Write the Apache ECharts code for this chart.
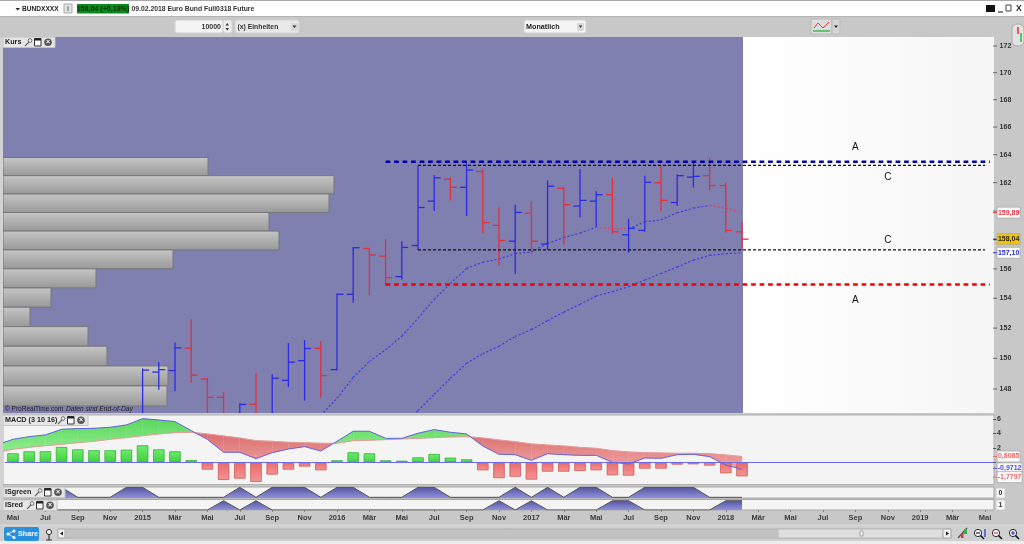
<!DOCTYPE html>
<html><head><meta charset="utf-8">
<style>html,body{margin:0;padding:0;background:#c8c8c8}#c{width:1024px;height:544px}</style>
<script src="https://cdn.jsdelivr.net/npm/echarts@6/dist/echarts.min.js"></script>
</head><body><div id="c"></div>
<script>
// ---------- data (index 0 = Mai 2014, one row per month) ----------
const months = ['Mai','Jun','Jul','Aug','Sep','Okt','Nov','Dez',
 '2015','Feb','Mär','Apr','Mai','Jun','Jul','Aug','Sep','Okt','Nov','Dez',
 '2016','Feb','Mär','Apr','Mai','Jun','Jul','Aug','Sep','Okt','Nov','Dez',
 '2017','Feb','Mär','Apr','Mai','Jun','Jul','Aug','Sep','Okt','Nov','Dez',
 '2018','Feb','Mär','Apr','Mai','Jun','Jul','Aug','Sep','Okt','Nov','Dez',
 '2019','Feb','Mär','Apr','Mai'];
const n = null;
const open = [n,n,n,n,n,n,n,n,145.8,149.1,149.2,150.67,148.65,147.46,146,147,146,148.56,149.85,150.65,149.26,154.27,157.4,156.87,155.47,157.6,160.7,162.25,161.67,162.8,159,157.9,159.85,157.7,161.6,160.35,160.7,161.15,158.35,158.65,162,160.6,162.4,162.5,161.8,158.55];
const high = [n,n,n,n,n,n,n,n,149.34,149.75,151.05,152.59,148.7,147.8,147.07,149.06,148.95,151,151.2,151.15,154.33,157.5,157.4,158.05,157.9,163.2,162.55,162.37,163.4,162.95,160.25,160.45,160.7,162.17,161.7,162.97,161.4,162.35,159.45,162.5,163.2,162.6,163.4,163.8,162,159.25];
const low = [n,n,n,n,n,n,n,n,145.5,147.95,147.85,148.4,146,145.5,145.8,145.8,146,148.13,147.25,147.45,149.2,153.7,154.2,154.85,155.27,157.3,160,160.75,159.65,158.45,156.2,155.65,157.05,157.3,157.65,159.55,158.9,158.4,157.1,158.55,160,160.35,161.65,161.45,158.5,157.3];
const close = [n,n,n,n,n,n,n,n,149.23,149.26,150.69,148.9,147.46,145.8,147,146,148.7,149.75,150.65,148.87,154.27,157.45,156.95,155.4,157.47,160.25,162.35,161.67,162.9,159.2,157.95,159.9,157.9,161.75,160.45,160.75,161.15,158.55,158.8,162.03,160.75,162.5,162.45,161.8,158.65,158.04];
const maUpper = [n,n,n,n,n,n,n,n,n,n,n,n,n,n,n,n,n,n,n,146.3,147.4,148.75,149.8,150.56,151.46,152.66,153.93,155,156.03,156.45,156.67,157.04,157.15,157.75,158.14,158.47,158.86,158.77,158.75,159.25,159.39,159.88,160.2,160.4,160.19,159.89];
const maLower = [n,n,n,n,n,n,n,n,n,n,n,n,n,n,n,n,n,n,n,n,n,n,n,n,145.6,146.6,147.65,148.7,149.67,150.3,150.8,151.44,151.9,152.5,153.07,153.6,154.15,154.45,154.78,155.24,155.68,156.12,156.6,156.92,157.04,157.1];
const macdLine = [3.19,3.56,3.8,4.58,4.68,4.72,4.86,5.19,6.06,5.88,5.65,4.4,3.19,1.39,1.39,.51,1.34,1.85,2.18,1.57,2.92,4.31,4.31,3.33,3.33,4.03,4.54,4.17,3.94,2.27,1.11,1.06,.28,1.2,1.06,.97,.97,0,-.23,.6,.56,1.06,1.11,.79,-.37,-.97];
const macdSignal = [1.81,2.08,2.31,2.5,2.73,2.92,3.19,3.43,3.7,3.94,4.12,4.17,3.94,3.66,3.38,3.01,2.92,2.78,2.73,2.64,2.64,3.01,3.06,3.15,3.24,3.33,3.43,3.52,3.56,3.38,3.1,2.87,2.55,2.41,2.27,2.08,1.94,1.62,1.44,1.34,1.3,1.25,1.25,1.2,1.02,.81];
const macdHist = [1.25,1.53,1.53,2.13,1.8,1.67,1.67,1.76,2.36,1.8,1.53,.32,-1.02,-2.45,-2.27,-2.73,-1.71,-1.02,-.6,-1.11,.28,1.39,1.25,.28,.23,.69,1.16,.65,.42,-1.11,-2.2,-2,-2.4,-1.3,-1.3,-1.2,-1.11,-1.8,-1.85,-.88,-.88,-.32,-.28,-.46,-1.53,-1.95];
const macdEdge = [2.73,1.53]; // line and signal at the panel's left edge
const isGreen = [1,1,1,1,0,0,0,1,1,0,0,0,0,0,1,0,1,1,1,0,1,1,0,0,0,1,1,0,0,0,0,1,0,1,0,1,1,0,0,1,1,1,1,0,0,0];
const isRed = [0,0,0,0,0,0,0,0,0,0,0,0,0,1,0,1,0,0,0,0,0,0,0,0,0,0,0,0,0,0,1,0,1,0,0,0,0,1,1,0,0,0,0,0,1,1];
const profileEdges = [163.8,162.5,161.2,159.9,158.6,157.3,156,154.7,153.4,152.1,150.8,149.5,148.2,146.9];
const profileVolume = [205,331,326,266,276,170,93,48,27,85,104,165,164];
const priceTicks = [172,170,168,166,164,162,160,158,156,154,152,150,148];
const levelStart = [23,25,25,23];
const levelEnd = [60,60,60,60];
const levelPrice = [163.5,163.24,157.3,154.94];
const levelKind = ['blue','black','black','red'];
const noteMonth = [52,54,54,52];
const notePrice = [164.55,162.4,158,153.9];
const noteText = ['A','C','C','A'];
const priceTags = [159.89,158.04,157.10];
const priceTagText = ['159,89','158,04','157,10'];
const macdTags = [0.8085,-0.9712,-1.7797];
const macdTagText = ['0,8085','-0,9712','-1,7797'];
const macdTicks = [6,4,2,0];

// ---------- styles ----------
const FF = '"Liberation Sans",Arial,sans-serif';
const BLUE = '#2b2be6', RED = '#e2303c';
const G = {type:'linear',x:0,y:0,x2:0,y2:1};
const grad = (a,b)=>Object.assign({},G,{colorStops:[{offset:0,color:a},{offset:1,color:b}]});
const gFill = (y1,y2,a,b)=>({type:'linear',global:true,x:0,y:y1,x2:0,y2:y2,colorStops:[{offset:0,color:a},{offset:1,color:b}]});
const GREEN_FILL = gFill(418,450,'#5ad65a','#8cec8c'), RED_FILL = gFill(436,470,'#dc7272','#f2a6a6');

function ohlcItem(p, api){
  const i = api.value(0);
  const c = api.coord([i, api.value(4)]), o = api.coord([i, api.value(1)]);
  const h = api.coord([i, api.value(2)]), l = api.coord([i, api.value(3)]);
  const col = api.value(4) >= api.value(1) ? BLUE : RED;
  const w = api.size([1,0])[0]*0.4, s = {stroke:col, lineWidth:1.3};
  return {type:'group', children:[
    {type:'line', shape:{x1:h[0],y1:h[1],x2:l[0],y2:l[1]}, style:s},
    {type:'line', shape:{x1:o[0]-w,y1:o[1],x2:o[0],y2:o[1]}, style:s},
    {type:'line', shape:{x1:c[0],y1:c[1],x2:c[0]+w,y2:c[1]}, style:s}
  ]};
}
function maItem(p, api){
  const i = api.value(0);
  const a = api.coord([i, api.value(1)]), b = api.coord([i+1, api.value(2)]);
  return {type:'line', shape:{x1:a[0],y1:a[1],x2:b[0],y2:b[1]},
    style:{stroke: api.value(2) >= api.value(1) ? '#3c3ce8' : '#e6405a', lineWidth:1.2, lineDash:[2,2]}};
}
const segments = arr => arr.slice(0,-1).map((v,i)=>[i,v,arr[i+1]]).filter(r=>r[1]!=null);

function macdFillItem(p, api){
  const i = api.value(0);
  const a1 = api.coord([i, api.value(1)]), b1 = api.coord([i+1, api.value(2)]);
  const a2 = api.coord([i, api.value(3)]), b2 = api.coord([i+1, api.value(4)]);
  const da = api.value(1)-api.value(3), db = api.value(2)-api.value(4);
  const poly = (pts,f)=>({type:'polygon', shape:{points:pts}, style:{fill:f,stroke:f,lineWidth:.4}});
  if (da*db >= 0) return poly([a1,b1,b2,a2], (da+db)>=0?GREEN_FILL:RED_FILL);
  const t = da/(da-db), x = [a1[0]+(b1[0]-a1[0])*t, a1[1]+(b1[1]-a1[1])*t];
  return {type:'group', children:[poly([a1,x,a2], da>0?GREEN_FILL:RED_FILL), poly([x,b1,b2], db>0?GREEN_FILL:RED_FILL)]};
}
function macdEdgeItem(p, api){
  const x0 = p.coordSys.x-1.9;
  const l0 = api.coord([0,api.value(0)]), s0 = api.coord([0,api.value(1)]);
  const l1 = api.coord([0,api.value(2)]), s1 = api.coord([0,api.value(3)]);
  return {type:'group',children:[
    {type:'polygon',shape:{points:[[x0,l0[1]],l1,s1,[x0,s0[1]]]},style:{fill:GREEN_FILL}},
    {type:'line',shape:{x1:x0,y1:l0[1],x2:l1[0],y2:l1[1]},style:{stroke:'#6464e6',lineWidth:1}},
    {type:'line',shape:{x1:x0,y1:s0[1],x2:s1[0],y2:s1[1]},style:{stroke:'#e79a9a',lineWidth:1}}
  ]};
}
function tagItem(colors, nudge){
  return function(p, api){
    const y = api.coord([0, api.value(1)])[1] + (nudge[p.dataIndex]||0);
    const x = p.coordSys.x + p.coordSys.width;
    const c = colors[p.dataIndex];
    return {type:'group', children:[
      {type:'line', shape:{x1:x,y1:y,x2:x+4,y2:y}, style:{stroke:c.t, lineWidth:1}},
      {type:'rect', shape:{x:x+4,y:y-5.5,width:c.w||23,height:11}, style:{fill:c.b, stroke:'#aaa', lineWidth:.8}},
      {type:'text', style:{x:x+4+(c.w||23)/2,y:y,text:c.s,fill:c.t,font:'bold 7px '+FF,align:'center',verticalAlign:'middle'}}
    ]};
  };
}

// ---------- chrome helpers ----------
const rect=(x,y,w,h,fill,stroke,z,r)=>({type:'rect',silent:true,z:z==null?-1:z,shape:{x,y,width:w,height:h,r:r||0},style:{fill,stroke:stroke||null,lineWidth:stroke?1:0}});
const txt=(x,y,s,o)=>({type:'text',silent:true,z:(o&&o.z)||100,style:Object.assign({x,y,text:s,fill:'#333',font:'bold 7px '+FF,verticalAlign:'middle'},o||{})});
const seg=(x1,y1,x2,y2,c,w,z)=>({type:'line',silent:true,z:z==null?100:z,shape:{x1,y1,x2,y2},style:{stroke:c,lineWidth:w||1}});
const circ=(x,y,r,fill,stroke,z)=>({type:'circle',silent:true,z:z==null?100:z,shape:{cx:x,cy:y,r},style:{fill,stroke:stroke||null,lineWidth:stroke?1:0}});
function tab(x,y,w,label){
  const ix = x+w-31;
  return [rect(x,y,w,10.5,'#e6e6e6','#c4c4c4',90),
    txt(x+2,y+5.5,label,{font:'bold 7.2px '+FF,fill:'#222'}),
    seg(ix+1,y+9,ix+5.5,y+4.5,'#666',1.1),circ(ix+6,y+3.5,1.8,'#fff','#666'),
    rect(ix+10.5,y+1.5,6.5,7.5,'#fff','#333',100),seg(ix+10.5,y+2.5,ix+17,y+2.5,'#222',2),
    circ(ix+24,y+5.2,3.8,'#555'),txt(ix+24,y+5.4,'×',{fill:'#fff',font:'bold 7px '+FF,align:'center'})];
}
function lens(x,y,sign,col){
  const a=[circ(x,y-1,3.6,'#fff','#223'),seg(x+2.5,y+1.5,x+6,y+5,'#111',1.6)];
  a.push(seg(x-2,y-1,x+2,y-1,col,1.2));
  if(sign==='+')a.push(seg(x,y-3,x,y+1,col,1.2));
  return a;
}
const chrome = [].concat(
  // panels
  rect(0,0,1024,544,'#c8c8c8',null,-3),
  rect(0,1,1024,15.5,'#ffffff',null,-2),
  rect(0,0,1024,1,'#aaaaaa',null,-2),
  rect(0,16,1024,1,'#b4b4b4',null,-2),
  rect(3,37,740,376,'#7f7fb0',null,-1),
  {type:'rect',silent:true,z:-1,shape:{x:743,y:37,width:251,height:376},style:{fill:{type:'linear',x:0,y:0,x2:1,y2:0,colorStops:[{offset:0,color:'#ffffff'},{offset:1,color:'#f6f6f6'}]}}},
  rect(3,415,991,69.5,'#f4f4f4','#b0b0b0'),
  rect(3,487,991,11,'#f4f4f4','#a8a8a8'),
  rect(3,499.5,991,10.5,'#f4f4f4','#a8a8a8'),
  rect(0,37,3,473,'#d2d2d2',null,95),
  // header row
  {type:'polygon',silent:true,z:100,shape:{points:[[15.5,8],[20,8],[17.7,10.5]]},style:{fill:'#222'}},
  txt(22,8.7,'BUNDXXXX',{font:'bold 6.6px '+FF,fill:'#222'}),
  rect(64,4,8,9,'#e2e2e2','#aaa',90),txt(68,8.7,'i',{align:'center',font:'bold 7px '+FF,fill:'#666'}),
  rect(77,4,52,9.5,'#0d8a1c',null,90),txt(103,8.9,'158,04 (+0,19%)',{align:'center',font:'bold 7.1px '+FF,fill:'#0b2b0b'}),
  txt(131.5,8.9,'09.02.2018 Euro Bund Full0318 Future',{font:'bold 6.8px '+FF,fill:'#333'}),
  rect(986,5,9,7,'#111',null,90),seg(998,12,1003,12,'#333',1.2),rect(1006,5,5,6,'#fff','#444',90),txt(1016,8.7,'X',{font:'bold 8.5px '+FF,fill:'#222'}),
  // toolbar
  rect(175,20,48,13,'#f4f4f4','#d0d0d0',90,2),txt(221,26.8,'10000',{align:'right'}),
  rect(223,20,9,13,'#eee','#d0d0d0',90,2),
  {type:'polygon',silent:true,z:100,shape:{points:[[225.5,25.5],[229,25.5],[227.2,23]]},style:{fill:'#333'}},
  {type:'polygon',silent:true,z:100,shape:{points:[[225.5,28],[229,28],[227.2,30.5]]},style:{fill:'#333'}},
  rect(235,20,64,13,'#e8e8e8','#d0d0d0',90,2),txt(237.5,26.8,'(x) Einheiten',{font:'bold 6.8px '+FF}),
  rect(291,23,7,8,'#d8d8d8',null,92,1),
  {type:'polygon',silent:true,z:100,shape:{points:[[292.5,25.5],[296.5,25.5],[294.5,28]]},style:{fill:'#333'}},
  rect(524,20,62,13,'#f4f4f4','#d0d0d0',90,2),txt(526,26.8,'Monatlich',{font:'bold 7.2px '+FF,fill:'#222'}),
  rect(577,23,7,8,'#d8d8d8',null,92,1),
  {type:'polygon',silent:true,z:100,shape:{points:[[578.8,25.5],[582.2,25.5],[580.5,28]]},style:{fill:'#333'}},
  rect(811,19,21,15,'#dcdcdc','#bbb',90,2),rect(832,19,8,15,'#d4d4d4','#bbb',90,1),
  seg(813,31,830,31,'#35b54a',1.4),seg(814,28,818,23,'#e03b3b',1),seg(818,23,823,28,'#36a84f',1),seg(823,28,829,22,'#e03b3b',1),
  {type:'polygon',silent:true,z:100,shape:{points:[[834,25.5],[838,25.5],[836,28]]},style:{fill:'#222'}},
  rect(1012,24,12,22,'#e2e2e2','#aaa',90,5),seg(1018,27,1018,34,'#dd3030',1.5),seg(1021,33,1021,42,'#2eb24a',1.5),
  // tabs and notes
  tab(3,37,52,'Kurs'),
  tab(3,415,85,'MACD (3 10 16)'),
  tab(3,487,62,'ISgreen'),
  tab(3,500,54,'ISred'),
  {type:'text',silent:true,z:100,style:{x:5,y:409,text:'© ProRealTime.com',fill:'#222',font:'6.5px '+FF,verticalAlign:'middle'}},
  {type:'text',silent:true,z:100,style:{x:66,y:409,text:'Daten sind End-of-Day',fill:'#222',font:'italic 6.6px '+FF,verticalAlign:'middle'}},
  // isolated axis labels
  rect(996,488,9,10,'#f8f8f8','#ccc',90),txt(1000.5,493.3,'0',{align:'center'}),
  rect(996,500,9,10,'#f8f8f8','#ccc',90),txt(1000.5,505.3,'1',{align:'center'}),
  // bottom bar
  seg(0,525.5,1024,525.5,'#dadada',1.5,-1),
  rect(0,527,1024,14,'#d0d0d0',null,-1),
  rect(0,541,1024,3,'#ececec',null,-1),
  rect(4,527,35,14,'#2a8fdd',null,90,2),txt(18,534.3,'Share',{font:'bold 7.2px '+FF,fill:'#fff'}),
  circ(8,534,1.5,'#fff'),circ(14,531,1.5,'#fff'),circ(14,537.5,1.5,'#fff'),seg(8,534,14,531,'#fff',.8),seg(8,534,14,537.5,'#fff',.8),
  circ(49,532,2.6,'#eee','#333'),seg(49,535,49,540,'#333',1.2),seg(46,540,52,540,'#333',1),
  rect(58,529,893,9,'#c2c2c2','#b0b0b0',-1),
  rect(58,529,7,9,'#f0f0f0','#aaa',90,1),{type:'polygon',silent:true,z:100,shape:{points:[[63,531.5],[63,535.5],[60,533.5]]},style:{fill:'#222'}},
  rect(778,529,165,9,'#dedede','#bbb',90,1),rect(860,531,3,5,'#eee','#aaa',92),
  rect(943,529,8,9,'#f0f0f0','#aaa',90,1),{type:'polygon',silent:true,z:100,shape:{points:[[946,531.5],[946,535.5],[949,533.5]]},style:{fill:'#222'}},
  seg(958,538,967,528,'#555',1.4),rect(964,529,3,5,'#2eb24a',null,100),rect(961,533,2.5,5,'#d33',null,100),
  lens(978,534,'',  '#223'),seg(985,529,985,537,'#2a45d8',1.4),
  lens(996,534,'-','#d33'),
  lens(1013,534,'+','#2a45d8')
);

// ---------- axes ----------
const LEFT = 4.9, WIDTH = 988.2;
const grids = [
  {left:LEFT,width:WIDTH,top:37,height:376},
  {left:LEFT,width:WIDTH,top:415,height:69.5},
  {left:LEFT,width:WIDTH,top:487,height:11},
  {left:LEFT,width:WIDTH,top:499.5,height:10.5}
];
const evenMonth = i => i % 2 === 0;
const hiddenX = g => ({type:'category',gridIndex:g,data:months,show:false});
const xAxes = [hiddenX(0),hiddenX(1),hiddenX(2),
  {type:'category',gridIndex:3,data:months,
   axisLine:{show:false},
   axisTick:{show:true,alignWithLabel:true,interval:evenMonth,length:2,lineStyle:{color:'#888'}},
   axisLabel:{show:true,interval:evenMonth,margin:4,hideOverlap:false,color:'#3a3a3a',fontFamily:'"Liberation Sans",Arial,sans-serif',fontWeight:'bold',fontSize:7.5}},
  {type:'value',gridIndex:0,show:false,min:1.9,max:990.1}
];
const yAxes = [
  {type:'log',gridIndex:0,min:146.45,max:172.68,show:false},
  {type:'value',gridIndex:1,min:-3.08,max:6.57,position:'right',splitLine:{show:false},axisLine:{show:false},
   axisTick:{show:true,length:3,customValues:macdTicks,lineStyle:{color:'#555'}},
   axisLabel:{show:true,customValues:macdTicks,margin:4,color:'#333',fontFamily:'"Liberation Sans",Arial,sans-serif',fontWeight:'bold',fontSize:7}},
  {type:'value',gridIndex:2,min:-0.07,max:1.03,show:false},
  {type:'value',gridIndex:3,min:0,max:1.13,show:false}
];
const onPanel = (g,extra)=>Object.assign({xAxisIndex:g,yAxisIndex:g},extra);

const series = [
  // volume profile
  onPanel(0,{type:'custom',xAxisIndex:4,z:1,
    data:profileVolume.map((v,i)=>[v,profileEdges[i],profileEdges[i+1]]),
    renderItem:(p,api)=>{
      const a=api.coord([0,api.value(1)]), b=api.coord([api.value(0),api.value(2)]);
      return {type:'rect',shape:{x:a[0],y:a[1],width:b[0]-a[0],height:b[1]-a[1]},
        style:{fill:grad('#c6c6c6','#989898'),stroke:'#777',lineWidth:1}};
    }}),
  // moving averages
  onPanel(0,{type:'custom',z:2,clip:true,data:segments(maUpper),renderItem:maItem}),
  onPanel(0,{type:'custom',z:2,clip:true,data:segments(maLower),renderItem:maItem}),
  // OHLC bars
  onPanel(0,{type:'custom',z:3,clip:true,
    data:open.map((o,i)=>[i,o,high[i],low[i],close[i]]).filter(r=>r[1]!=null),
    renderItem:ohlcItem}),
  // horizontal levels
  onPanel(0,{type:'custom',z:4,
    data:levelPrice.map((v,i)=>[levelStart[i],levelEnd[i],v]),
    renderItem:(p,api)=>{
      const k=levelKind[p.dataIndex], a=api.coord([api.value(0),api.value(2)]), b=api.coord([api.value(1),api.value(2)]);
      const st = k==='black'?{stroke:'#111',lineWidth:1.2,lineDash:[3,2]}
        :{stroke:k==='blue'?'#0000a4':'#f00008',lineWidth:2.5,lineDash:[4.7,3.8]};
      const extra = k==='black'?0:api.size([1,0])[0]*0.3;
      return {type:'line',shape:{x1:a[0],y1:a[1],x2:b[0]+extra,y2:b[1]},style:st};
    }}),
  // annotation letters
  onPanel(0,{type:'custom',z:5,
    data:notePrice.map((v,i)=>[noteMonth[i],v]),
    renderItem:(p,api)=>{
      const a=api.coord([api.value(0),api.value(1)]);
      return {type:'text',style:{x:a[0],y:a[1],text:noteText[p.dataIndex],fill:'#111',font:'10px '+FF,align:'center',verticalAlign:'middle'}};
    }}),
  // price scale
  onPanel(0,{type:'custom',z:6,
    data:priceTicks.map(v=>[0,v]),
    renderItem:(p,api)=>{
      const y=api.coord([0,api.value(1)])[1], x=p.coordSys.x+p.coordSys.width;
      return {type:'group',children:[
        {type:'line',shape:{x1:x,y1:y,x2:x+4,y2:y},style:{stroke:'#666',lineWidth:1}},
        {type:'text',style:{x:x+6.5,y:y,text:String(api.value(1)),fill:'#333',font:'bold 7px '+FF,verticalAlign:'middle'}}
      ]};
    }}),
  onPanel(0,{type:'custom',z:7,
    data:priceTags.map(v=>[0,v]),
    renderItem:tagItem([{s:priceTagText[0],t:'#f0303c',b:'#ffffff'},{s:priceTagText[1],t:'#222',b:'#f5c400'},{s:priceTagText[2],t:'#2b2be6',b:'#ffffff'}],[0,0,0])}),
  // MACD
  onPanel(1,{type:'custom',z:1,clip:true,
    data:macdLine.slice(0,-1).map((v,i)=>[i,v,macdLine[i+1],macdSignal[i],macdSignal[i+1]]),
    renderItem:macdFillItem}),
  onPanel(1,{type:'custom',z:1,data:[[macdEdge[0],macdEdge[1],macdLine[0],macdSignal[0]]],renderItem:macdEdgeItem}),
  onPanel(1,{type:'bar',z:2,barWidth:11.5,silent:true,
    data:macdHist.map(v=>({value:v,itemStyle:v>=0
      ?{color:grad('#72ea72','#40d040'),borderColor:'#2fb52f',borderWidth:.8}
      :{color:grad('#e86a6a','#f59494'),borderColor:'#cf5a5a',borderWidth:.8}})),
    markLine:{silent:true,symbol:'none',label:{show:false},animation:false,
      data:[{yAxis:0}],lineStyle:{color:'#6a6aea',width:1,type:'solid'}}}),
  onPanel(1,{type:'line',z:3,data:macdSignal,symbol:'none',silent:true,lineStyle:{color:'#e79a9a',width:1}}),
  onPanel(1,{type:'line',z:4,data:macdLine,symbol:'none',silent:true,lineStyle:{color:'#6464e6',width:1}}),
  onPanel(1,{type:'custom',z:7,
    data:macdTags.map(v=>[0,v]),
    renderItem:tagItem([{s:macdTagText[0],t:'#ee6a6a',b:'#fafafa'},{s:macdTagText[1],t:'#4b4be6',b:'#fafafa',w:25},{s:macdTagText[2],t:'#ee6a6a',b:'#fafafa',w:25}],[0,-1,2])}),
  // indicators
  onPanel(2,{type:'line',data:isGreen,symbol:'none',silent:true,lineStyle:{color:'#555',width:1},
    areaStyle:{origin:'start',opacity:1,color:grad('#55559f','#9090dc')}}),
  onPanel(3,{type:'line',data:isRed,symbol:'none',silent:true,lineStyle:{color:'#555',width:1},
    areaStyle:{origin:'start',opacity:1,color:grad('#55559f','#9090dc')}})
];

const chart = echarts.init(document.getElementById('c'),null,{renderer:'canvas'});
chart.setOption({animation:false,backgroundColor:'#c8c8c8',tooltip:{show:false},
  grid:grids,xAxis:xAxes,yAxis:yAxes,series:series,graphic:{elements:chrome}});
</script></body></html>
